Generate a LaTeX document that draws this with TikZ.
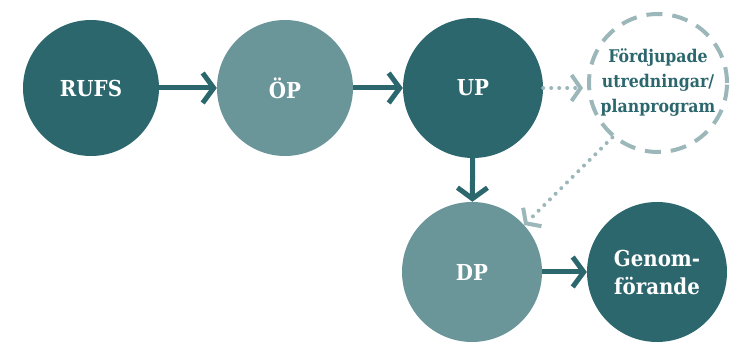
\documentclass[tikz,border=0pt]{standalone}
\usepackage{fontspec}
\setmainfont{DejaVu Serif Condensed}
\usetikzlibrary{arrows.meta}
\definecolor{tealdark}{HTML}{2B676D}
\definecolor{teallight}{HTML}{6A9599}
\definecolor{tealpale}{HTML}{9CB7B9}

\tikzset{
  stage/.style={circle, fill=tealdark, text=white, minimum size=140pt, inner sep=0pt,
    font=\bfseries\fontsize{22}{28}\selectfont, align=center},
  stagelight/.style={stage, fill=teallight},
  stageopt/.style={circle, draw=tealpale, line width=4pt, dash pattern=on 16pt off 10pt,
    text=tealdark, minimum size=138pt, inner sep=0pt,
    font=\bfseries\fontsize{17.5}{25}\selectfont, align=center},
  flow/.style={draw=tealdark, line width=5pt, -{Straight Barb[length=11pt,width=30pt]}},
  optflow/.style={draw=tealpale, line width=4pt, line cap=round, dash pattern=on 0pt off 8pt,
    -{Straight Barb[length=9pt,width=26pt,line cap=butt]}}
}

\begin{document}
\begin{tikzpicture}[x=1pt,y=1pt]
\useasboundingbox (0,0) rectangle (736,342);
\node[stage, minimum size=136pt] (rufs) at (91,254) {RUFS};
\node[stagelight, minimum size=136pt] (op) at (285,254) {ÖP};
\node[stage] (up) at (473,254) {UP};
\node[stageopt] (fp) at (658,259) {Fördjupade\\utredningar/\\planprogram};
\node[stagelight] (dp) at (472,70) {DP};
\node[stage] (gf) at (657,70) {Genom-\\förande};
% main flow
\draw[flow] (rufs) -- (op);
\draw[flow] (op) -- (up);
\draw[flow] (up) -- (dp);
\draw[flow] (dp) -- (gf);
% optional step
\draw[optflow, shorten >=4pt] (up.east) -- (fp.west |- up.east);
\draw[optflow] (fp.230) -- (dp.42);
\end{tikzpicture}
\end{document}
